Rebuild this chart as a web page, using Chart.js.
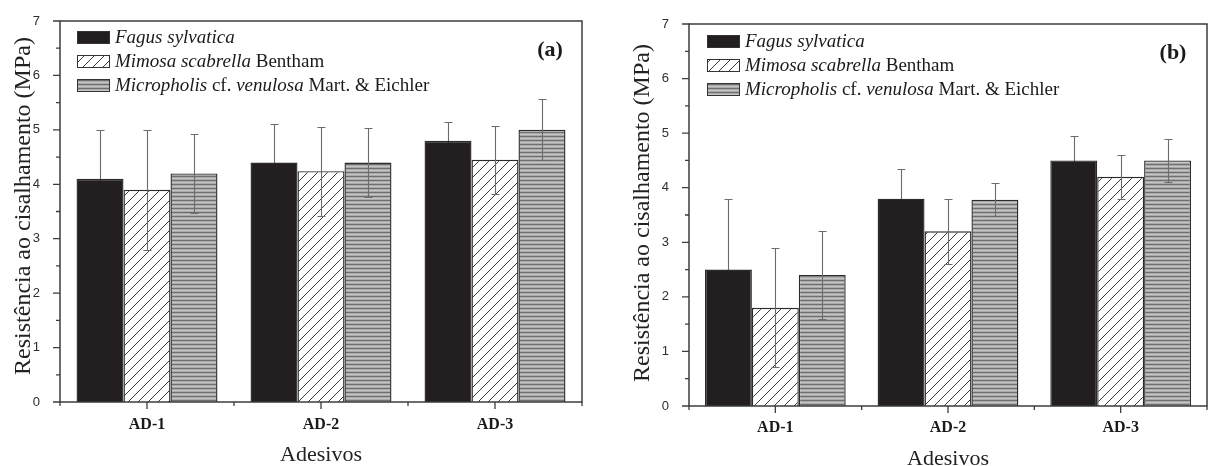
<!DOCTYPE html>
<html>
<head>
<meta charset="utf-8">
<script src="https://cdn.jsdelivr.net/npm/chart.js@4.4.1/dist/chart.umd.min.js"></script>
<style>
  html, body { margin: 0; padding: 0; background: #fff; overflow: hidden; }
  #wrapA { position: absolute; left: 0; top: 0; width: 600px; height: 466px; }
  #wrapB { position: absolute; left: 600px; top: 0; width: 609px; height: 472px; }
</style>
</head>
<body>
<div id="wrapA"><canvas id="chartA" width="600" height="466"></canvas></div>
<div id="wrapB"><canvas id="chartB" width="609" height="472"></canvas></div>
<script>
// categories (adhesives) and species
const categories = ['AD-1', 'AD-2', 'AD-3'];
const species = ['Fagus sylvatica', 'Mimosa scabrella Bentham', 'Micropholis cf. venulosa Mart. & Eichler'];
const yTicks = [0, 1, 2, 3, 4, 5, 6, 7];

// panel (a) means and std deviations (MPa)
const fagusA = [4.1, 4.4, 4.8];
const fagusErrA = [0.9, 0.71, 0.34];
const mimosaA = [3.9, 4.24, 4.45];
const mimosaErrA = [1.1, 0.82, 0.62];
const microA = [4.2, 4.4, 5.0];
const microErrA = [0.72, 0.63, 0.56];

// panel (b)
const fagusB = [2.5, 3.8, 4.5];
const fagusErrB = [1.3, 0.55, 0.45];
const mimosaB = [1.8, 3.2, 4.2];
const mimosaErrB = [1.09, 0.6, 0.4];
const microB = [2.4, 3.78, 4.5];
const microErrB = [0.8, 0.3, 0.4];

const serif = '"Liberation Serif", "Times New Roman", serif';
const sans = '"Liberation Sans", Arial, sans-serif';

// legend text pieces: [text, italic]
const legendParts = [
  [['Fagus sylvatica', true]],
  [['Mimosa scabrella', true], [' Bentham', false]],
  [['Micropholis', true], [' cf. ', false], ['venulosa', true], [' Mart. & Eichler', false]]
];

function hatchPattern() {
  const c = document.createElement('canvas');
  c.width = 10; c.height = 10;
  const g = c.getContext('2d');
  g.fillStyle = '#fff';
  g.fillRect(0, 0, 10, 10);
  g.strokeStyle = '#3a3a3a';
  g.lineWidth = 1;
  g.beginPath();
  g.moveTo(0, 10); g.lineTo(10, 0);
  g.moveTo(-5, 5); g.lineTo(5, -5);
  g.moveTo(5, 15); g.lineTo(15, 5);
  g.stroke();
  return g.createPattern(c, 'repeat');
}

function stripePattern() {
  const c = document.createElement('canvas');
  c.width = 4; c.height = 4;
  const g = c.getContext('2d');
  const rows = ['#6f6f6f', '#a9a9a9', '#c6c6c6', '#a9a9a9'];
  rows.forEach((col, i) => { g.fillStyle = col; g.fillRect(0, i, 4, 1); });
  return g.createPattern(c, 'repeat');
}

const fills = ['#231f20', hatchPattern(), stripePattern()];

function drawErrors(chart, behind) {
  const ctx = chart.ctx;
  const y = chart.scales.y;
  ctx.save();
  ctx.strokeStyle = '#6b6b6b';
  ctx.lineWidth = 1.1;
  chart.data.datasets.forEach((ds, di) => {
    if (!!ds.errBehind !== behind) return;
    chart.getDatasetMeta(di).data.forEach((bar, i) => {
      const v = ds.data[i], e = ds.errors[i];
      const yt = Math.round(y.getPixelForValue(v + e)) + 0.5;
      const yb = Math.round(y.getPixelForValue(v - e)) + 0.5;
      const x = Math.round(bar.x) + 0.5;
      ctx.beginPath();
      ctx.moveTo(x, yt); ctx.lineTo(x, yb);
      ctx.moveTo(x - 4, yt); ctx.lineTo(x + 4, yt);
      ctx.moveTo(x - 4, yb); ctx.lineTo(x + 4, yb);
      ctx.stroke();
    });
  });
  ctx.restore();
}

const panelDeco = {
  id: 'panelDeco',
  beforeDatasetsDraw(chart) { drawErrors(chart, true); },
  afterDatasetsDraw(chart) { drawErrors(chart, false); },
  afterDraw(chart, args, opts) {
    const ctx = chart.ctx;
    const { left, right, top, bottom } = chart.chartArea;
    const x = chart.scales.x, y = chart.scales.y;
    ctx.save();
    // frame
    ctx.strokeStyle = '#3c3c3c';
    ctx.lineWidth = 1.5;
    ctx.strokeRect(left, top, right - left, bottom - top);
    // ticks
    ctx.lineWidth = 1.3;
    ctx.beginPath();
    yTicks.forEach(t => {
      const py = y.getPixelForValue(t);
      ctx.moveTo(left, py); ctx.lineTo(left - 7, py);
      if (t < 7) {
        const pm = y.getPixelForValue(t + 0.5);
        ctx.moveTo(left, pm); ctx.lineTo(left - 4, pm);
      }
    });
    categories.forEach((c, i) => {
      const px = x.getPixelForValue(i);
      ctx.moveTo(px, bottom); ctx.lineTo(px, bottom + 7);
      const pb = x.getPixelForValue(i + 0.5);
      ctx.moveTo(pb, bottom); ctx.lineTo(pb, bottom + 4);
    });
    ctx.moveTo(left, bottom); ctx.lineTo(left, bottom + 4);
    ctx.stroke();

    // legend
    const lg = opts.legend;
    legendParts.forEach((parts, i) => {
      const cy = lg.y + i * lg.gap;
      ctx.fillStyle = fills[i];
      ctx.fillRect(lg.x, cy - 6, 33, 12);
      ctx.strokeStyle = '#333';
      ctx.lineWidth = 1;
      ctx.strokeRect(lg.x + 0.5, cy - 5.5, 32, 12);
      let tx = lg.x + 38;
      ctx.fillStyle = '#1a1a1a';
      ctx.textBaseline = 'middle';
      ctx.textAlign = 'left';
      parts.forEach(([txt, it]) => {
        ctx.font = (it ? 'italic ' : '') + '19px ' + serif;
        ctx.fillText(txt, tx, cy + 1);
        tx += ctx.measureText(txt).width;
      });
    });

    // panel letter
    ctx.font = 'bold 22px ' + serif;
    ctx.textAlign = 'center';
    ctx.textBaseline = 'middle';
    ctx.fillStyle = '#1a1a1a';
    ctx.fillText(opts.letter, opts.letterX, opts.letterY);

    // y axis title
    ctx.translate(opts.yTitleX, opts.yTitleY);
    ctx.rotate(-Math.PI / 2);
    ctx.font = '24px ' + serif;
    ctx.fillStyle = '#222';
    ctx.fillText('Resistência ao cisalhamento (MPa)', 0, 0);
    ctx.restore();
  }
};

function makeChart(id, vals, errs, cfg) {
  return new Chart(document.getElementById(id), {
    type: 'bar',
    data: {
      labels: categories,
      datasets: species.map((name, i) => ({
        label: name,
        data: vals[i],
        errors: errs[i],
        errBehind: i === 0,
        backgroundColor: fills[i],
        borderColor: '#2b2b2b',
        borderWidth: 1.4,
        categoryPercentage: cfg.catPct,
        barPercentage: 1
      }))
    },
    options: {
      responsive: false,
      animation: false,
      events: [],
      layout: { padding: { left: 0, right: cfg.padRight, top: cfg.padTop, bottom: 0 } },
      plugins: {
        legend: { display: false },
        tooltip: { enabled: false },
        panelDeco: cfg.deco
      },
      scales: {
        x: {
          grid: { display: false },
          border: { display: false },
          ticks: { font: { family: serif, size: 16, weight: 'bold' }, color: '#1a1a1a', padding: cfg.xTickPad },
          title: {
            display: true, text: 'Adesivos', color: '#222',
            font: { family: serif, size: 22 },
            padding: { top: 0, bottom: cfg.xTitlePad }
          },
          afterFit: s => { s.height = cfg.xAxisH; }
        },
        y: {
          min: 0, max: 7,
          grid: { display: false },
          border: { display: false },
          ticks: { stepSize: 1, font: { family: sans, size: 13 }, color: '#2e2e2e', padding: 12 },
          afterFit: s => { s.width = cfg.yAxisW; }
        }
      }
    },
    plugins: [panelDeco]
  });
}

makeChart('chartA', [fagusA, mimosaA, microA], [fagusErrA, mimosaErrA, microErrA], {
  catPct: 0.81, padRight: 18, padTop: 21, xAxisH: 64, yAxisW: 60, xTickPad: 5, xTitlePad: -2,
  deco: { letter: '(a)', letterX: 550, letterY: 50, yTitleX: 24, yTitleY: 206, legend: { x: 77, y: 37, gap: 24 } }
});

makeChart('chartB', [fagusB, mimosaB, microB], [fagusErrB, mimosaErrB, microErrB], {
  catPct: 0.815, padRight: 2, padTop: 24, xAxisH: 66, yAxisW: 89, xTickPad: 4, xTitlePad: 0,
  deco: { letter: '(b)', letterX: 573, letterY: 53, yTitleX: 43, yTitleY: 213, legend: { x: 107, y: 41, gap: 24 } }
});
</script>
</body>
</html>
